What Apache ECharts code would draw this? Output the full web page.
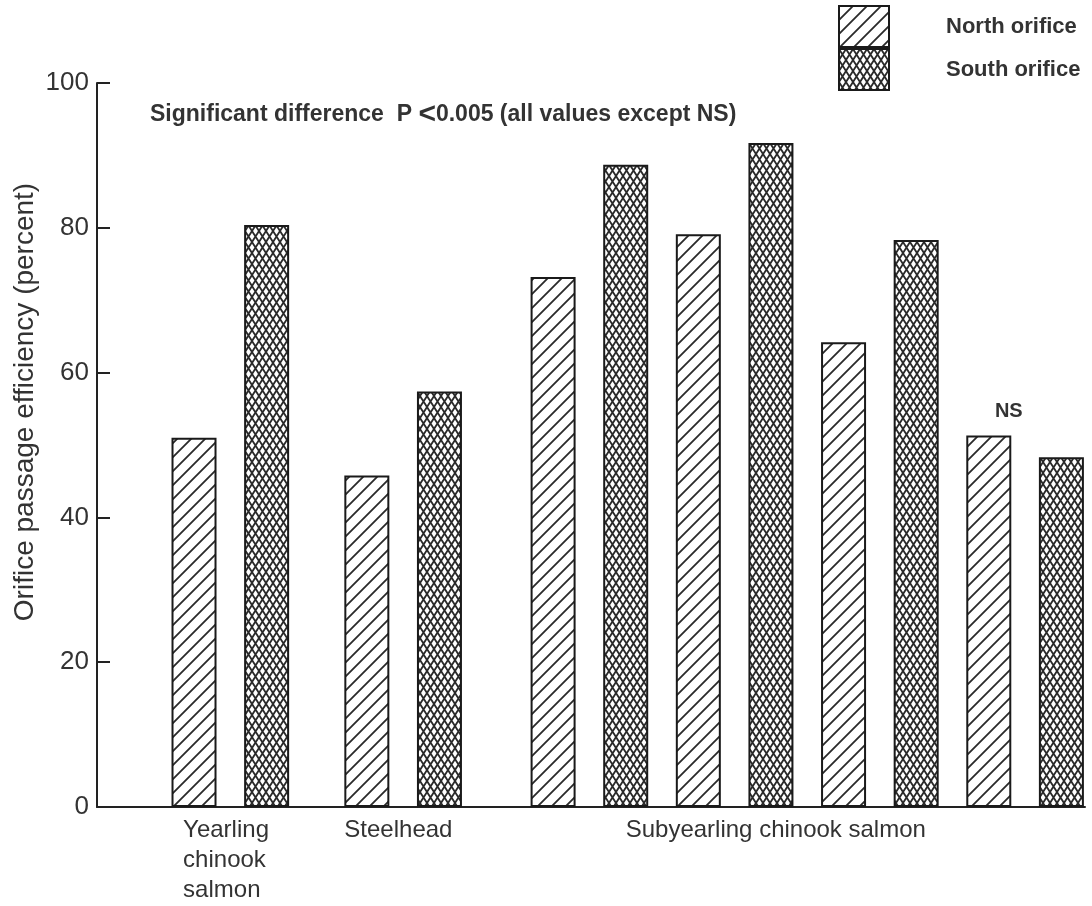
<!DOCTYPE html>
<html>
<head>
<meta charset="utf-8">
<script src="https://cdn.jsdelivr.net/npm/echarts@6/dist/echarts.min.js"></script>
<style>
html,body{margin:0;padding:0;background:#fff;}
#chart{width:1092px;height:906px;}
</style>
</head>
<body>
<div id="chart"></div>
<script>
// ---- data ----
const groups = ['Yearling\nchinook\nsalmon', 'Steelhead', 'Subyearling chinook salmon'];
const northValues = [51.0, 45.8, 73.2, 79.1, 64.2, 51.3];
const southValues = [80.4, 57.4, 88.7, 91.7, 78.3, 48.3];
const barGroup = [0, 1, 2, 2, 2, 2];          // which species group each pair belongs to
const yTicks = [0, 20, 40, 60, 80, 100];
const nsPair = 5;                              // pair marked NS
const yTitle = 'Orifice passage efficiency (percent)';

// ---- layout (x units: one bar step) ----
const groupStart = [0, 2.38, 4.945];
const labelOffset = [-0.15, -0.31, 1.0];

function pairX(i) {
  const g = barGroup[i];
  let k = 0;
  for (let j = 0; j < i; j++) if (barGroup[j] === g) k++;
  return groupStart[g] + 2 * k;
}

function makePattern(kind) {
  const c = document.createElement('canvas');
  const ctx = c.getContext('2d');
  if (kind === 'diag') {
    const s = 14;
    c.width = s; c.height = s;
    ctx.fillStyle = '#fff'; ctx.fillRect(0, 0, s, s);
    ctx.strokeStyle = '#2a2a2a'; ctx.lineWidth = 1.8;
    ctx.beginPath();
    ctx.moveTo(-2, s + 2); ctx.lineTo(s + 2, -2);
    ctx.moveTo(-2, 2); ctx.lineTo(2, -2);
    ctx.moveTo(s - 2, s + 2); ctx.lineTo(s + 2, s - 2);
    ctx.stroke();
  } else {
    const w = 7, h = 11;
    c.width = w; c.height = h;
    ctx.fillStyle = '#fff'; ctx.fillRect(0, 0, w, h);
    ctx.strokeStyle = '#2a2a2a'; ctx.lineWidth = 1.8;
    ctx.beginPath();
    ctx.moveTo(0, 0); ctx.lineTo(w, h);
    ctx.moveTo(w, 0); ctx.lineTo(0, h);
    ctx.stroke();
  }
  return { image: c, repeat: 'repeat' };
}

const northData = northValues.map((v, i) => {
  const d = { value: [pairX(i), v] };
  if (i === nsPair) d.label = { show: true, formatter: 'NS', position: 'top', distance: 14,
    fontSize: 20, fontWeight: 'bold', color: '#333', fontFamily: 'Liberation Sans', offset: [20, 0] };
  return d;
});
const southData = southValues.map((v, i) => ({ value: [pairX(i) + 1, v] }));

const labelValues = groups.map((g, i) => groupStart[i] + labelOffset[i]);

const chart = echarts.init(document.getElementById('chart'));
const axisColor = '#222';
const txt = '#333';
chart.setOption({
  animation: false,
  backgroundColor: '#fff',
  textStyle: { fontFamily: 'Liberation Sans' },
  grid: { left: 97, right: 7, top: 83, bottom: 99, containLabel: false },
  legend: {
    orient: 'vertical', left: 838, top: 5, padding: 0, itemWidth: 50, itemHeight: 41, itemGap: 0,
    icon: 'rect',
    data: ['North orifice', 'South orifice'],
    textStyle: { fontSize: 22, fontWeight: 'bold', color: txt, padding: [0, 0, 0, 52] }
  },
  title: {
    left: 150, top: 100, padding: 0,
    text: '{a|Significant difference  P }{b|<}{a|0.005 (all values except NS)}',
    textStyle: {
      rich: {
        a: { fontSize: 23, fontWeight: 'bold', color: txt, fontFamily: 'Liberation Sans' },
        b: { fontSize: 30, color: txt, fontFamily: 'Liberation Sans' }
      }
    }
  },
  graphic: [{
    type: 'text', x: 25, y: 402, rotation: Math.PI / 2,
    style: { text: yTitle, fontSize: 28, fill: txt, fontFamily: 'Liberation Sans',
      align: 'center', verticalAlign: 'middle' }
  }],
  xAxis: {
    type: 'value',
    min: -1.336, max: 12.27,
    splitLine: { show: false },
    axisLine: { show: true, onZero: false, lineStyle: { color: axisColor, width: 2 } },
    axisTick: { show: false },
    axisLabel: {
      customValues: labelValues,
      formatter: function (val) {
        let best = 0, bd = 1e9;
        labelValues.forEach((lv, i) => { const d = Math.abs(lv - val); if (d < bd) { bd = d; best = i; } });
        return groups[best];
      },
      align: 'left', verticalAlign: 'top', margin: 8,
      fontSize: 24, lineHeight: 30, color: txt, fontFamily: 'Liberation Sans'
    }
  },
  yAxis: {
    type: 'value', min: 0, max: 100, interval: 20,
    splitLine: { show: false },
    axisLine: { show: true, onZero: false, lineStyle: { color: axisColor, width: 2 } },
    axisTick: { show: true, inside: true, length: 13, lineStyle: { color: axisColor, width: 2 } },
    axisLabel: {
      margin: 8, fontSize: 26, color: txt, fontFamily: 'Liberation Sans',
      customValues: yTicks
    }
  },
  series: [
    {
      name: 'North orifice', type: 'bar', barWidth: 45, barGap: '-100%',
      itemStyle: { color: makePattern('diag'), borderColor: '#1a1a1a', borderWidth: 2 },
      data: northData
    },
    {
      name: 'South orifice', type: 'bar', barWidth: 45, barGap: '-100%',
      itemStyle: { color: makePattern('cross'), borderColor: '#1a1a1a', borderWidth: 2 },
      data: southData
    }
  ]
});
</script>
</body>
</html>
